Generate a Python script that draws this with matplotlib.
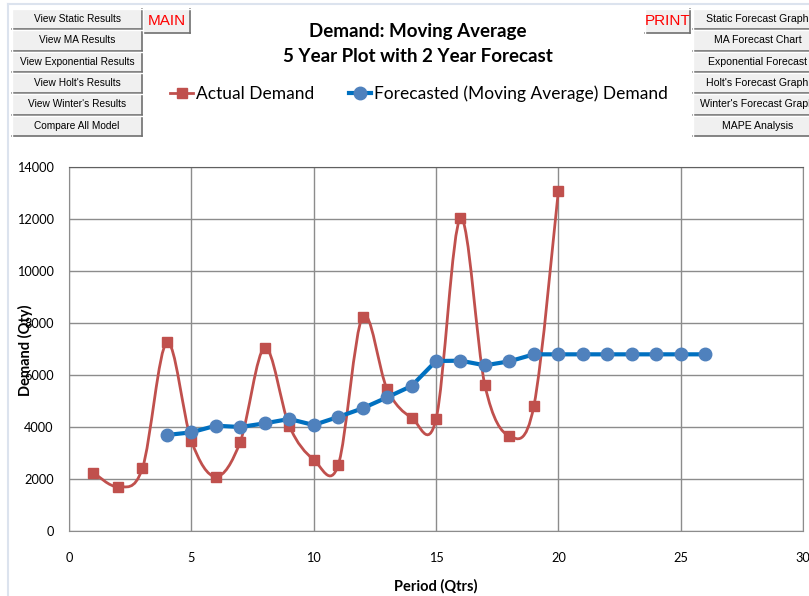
import matplotlib
matplotlib.use("Agg")
import matplotlib.pyplot as plt
from matplotlib.path import Path
from matplotlib.patches import PathPatch, Rectangle
from matplotlib.lines import Line2D

# datos
periodos_reales = [1, 2, 3, 4, 5, 6, 7, 8, 9, 10, 11, 12, 13, 14, 15, 16, 17, 18, 19, 20]
demanda_real = [2240, 1705, 2410, 7255, 3475, 2090, 3435, 7050, 4050, 2743,
                2525, 8243, 5460, 4360, 4295, 12025, 5603, 3654, 4808, 13065]
periodos_pronostico = list(range(4, 27))
demanda_pronostico = [3692, 3795, 4050, 4000, 4140, 4308, 4077, 4385, 4718, 5140,
                      5577, 6538, 6550, 6372, 6526, 6795, 6795, 6795, 6795, 6795,
                      6795, 6795, 6795]

botones_izq = ["View Static Results", "View MA Results", "View Exponential Results",
               "View Holt's Results", "View Winter's Results", "Compare All Model"]
botones_der = ["Static Forecast Graph", "MA Forecast Chart", "Exponential Forecast",
               "Holt's Forecast Graph", "Winter's Forecast Graph", "MAPE Analysis"]

ROJO = "#C0504D"
AZUL_LINEA = "#0070C0"
AZUL_MARCA = "#4F81BD"
W, H = 809, 596

plt.rcParams['font.family'] = ['Lato', 'DejaVu Sans']

fig = plt.figure(figsize=(W / 100, H / 100), dpi=100)


def fx(px):
    return px / W


def fy(py):
    return 1 - py / H


def Boton(x0, y0, x1, y1, texto, color="black", size=7.3, fam="Liberation Sans"):
    # boton estilo Excel con sombra abajo/derecha
    fig.patches.append(Rectangle((fx(x0), fy(y1)), fx(x1 - x0), (y1 - y0) / H,
                                 transform=fig.transFigure, facecolor="#F0F0F0",
                                 edgecolor="none", zorder=5))
    fig.add_artist(Line2D([fx(x0), fx(x1)], [fy(y1), fy(y1)], color="#707070", lw=1.2, zorder=6))
    fig.add_artist(Line2D([fx(x1), fx(x1)], [fy(y0), fy(y1)], color="#707070", lw=1.2, zorder=6))
    fig.add_artist(Line2D([fx(x0), fx(x1)], [fy(y0), fy(y0)], color="#FFFFFF", lw=1, zorder=6))
    fig.add_artist(Line2D([fx(x0), fx(x0)], [fy(y0), fy(y1)], color="#FFFFFF", lw=1, zorder=6))
    fig.text(fx((x0 + x1) / 2), fy((y0 + y1) / 2), texto, ha="center", va="center",
             color=color, fontsize=size, family=fam, zorder=7)


# borde claro del area del grafico
fig.add_artist(Line2D([fx(8), fx(809)], [fy(4), fy(4)], color="#DCE3EE", lw=1.5))
fig.add_artist(Line2D([fx(8), fx(8)], [fy(4), fy(596)], color="#DCE3EE", lw=1.5))

alto = 21.3
for i, t in enumerate(botones_izq):
    y0 = 9 + i * alto
    Boton(12, y0, 142, y0 + alto - 1, t)
for i, t in enumerate(botones_der):
    y0 = 9 + i * alto
    Boton(693, y0, 822, y0 + alto - 1, t, size=7.6)

Boton(143, 9, 190, 33, "MAIN", color="red", size=11, fam="Liberation Sans")
Boton(645, 9, 690, 33, "PRINT", color="red", size=11, fam="Liberation Sans")

ax = fig.add_axes([fx(69), fy(531), fx(803 - 69), (531 - 167) / H])

# curva suavizada tipo Excel (Bezier) para la demanda real
pts = list(zip(periodos_reales, demanda_real))
n = len(pts)
verts = [pts[0]]
codes = [Path.MOVETO]
for i in range(n - 1):
    p0 = pts[i - 1] if i > 0 else pts[i]
    p1 = pts[i]
    p2 = pts[i + 1]
    p3 = pts[i + 2] if i + 2 < n else pts[i + 1]
    c1 = (p1[0] + (p2[0] - p0[0]) / 6, p1[1] + (p2[1] - p0[1]) / 6)
    c2 = (p2[0] - (p3[0] - p1[0]) / 6, p2[1] - (p3[1] - p1[1]) / 6)
    verts += [c1, c2, p2]
    codes += [Path.CURVE4] * 3
ax.add_patch(PathPatch(Path(verts, codes), facecolor="none", edgecolor=ROJO, lw=2, zorder=3))
ax.plot(periodos_reales, demanda_real, ls="none", marker="s", ms=6.5, color=ROJO, zorder=4)

ax.plot(periodos_pronostico, demanda_pronostico, color=AZUL_LINEA, lw=3, marker="o",
        ms=9, mfc=AZUL_MARCA, mec=AZUL_MARCA, zorder=5)

ax.set_xlim(0, 30)
ax.set_ylim(0, 14000)
ax.set_xticks(range(0, 31, 5))
ax.set_yticks(range(0, 14001, 2000))
ax.grid(True, color="#8C8C8C", lw=1)
ax.set_axisbelow(True)
for s in ax.spines.values():
    s.set_color("#8C8C8C")
ax.spines["top"].set_color("#606060")
ax.tick_params(length=0, labelsize=9.2, pad=11)
ax.tick_params(axis="x", pad=15)

ax.set_xlabel("Period (Qtrs)", fontweight="bold", fontsize=10.5)
ax.xaxis.set_label_coords((436 - 69) / 734, -(586 - 531) / 364)
ax.xaxis.label.set_va("center")
ax.set_ylabel("Demand (Qty)", fontweight="bold", fontsize=10.5)
ax.yaxis.set_label_coords(-(69 - 25) / 734, (531 - 350) / 364)
ax.yaxis.label.set_va("center")

fig.text(fx(418), fy(32), "Demand: Moving Average", ha="center", va="center",
         fontsize=13.5, fontweight="bold")
fig.text(fx(418), fy(57), "5 Year Plot with 2 Year Forecast", ha="center", va="center",
         fontsize=13.5, fontweight="bold")

h1 = Line2D([], [], color=ROJO, lw=2, marker="s", ms=6.5)
h2 = Line2D([], [], color=AZUL_LINEA, lw=3, marker="o", ms=9, mfc=AZUL_MARCA, mec=AZUL_MARCA)
fig.legend([h1, h2], ["Actual Demand", "Forecasted (Moving Average) Demand"], ncol=2,
           loc="center", bbox_to_anchor=(fx(419), fy(94)), frameon=False, fontsize=12.5,
           handlelength=1.3, handletextpad=0.15, columnspacing=2.0)

fig.savefig("out.png", dpi=100)
